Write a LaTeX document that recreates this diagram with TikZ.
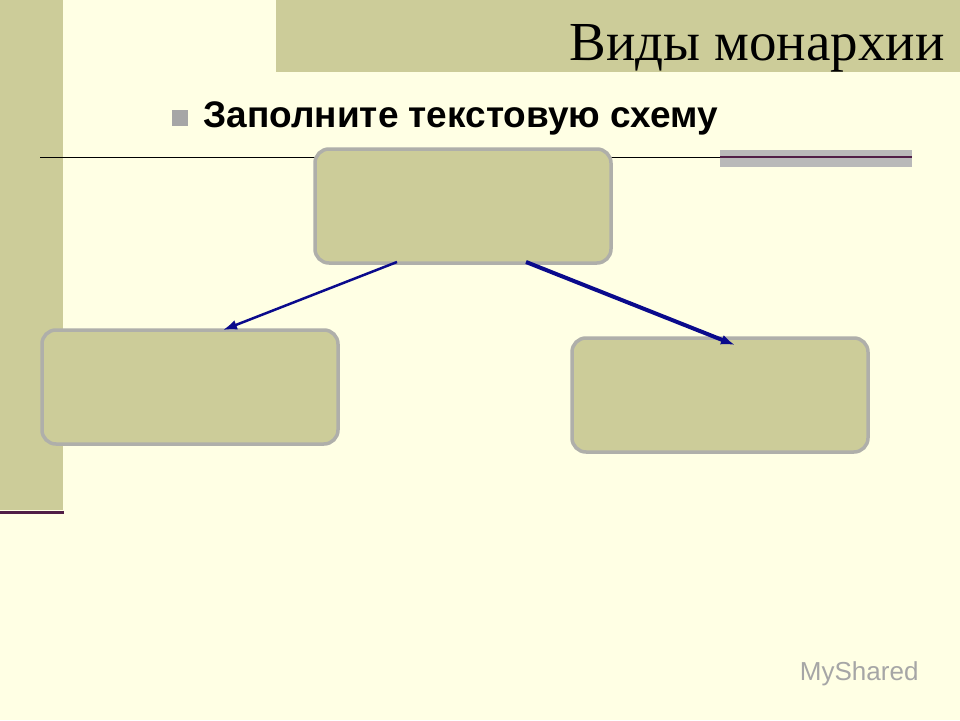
\documentclass[tikz,border=0pt]{standalone}
\usepackage{fontspec}
\setmainfont{Liberation Serif}
\newfontfamily\sansf{Liberation Sans}
\usetikzlibrary{arrows.meta}
\definecolor{bg}{RGB}{255,255,228}
\definecolor{khaki}{RGB}{204,204,153}
\definecolor{boxf}{RGB}{204,204,153}
\definecolor{plum}{RGB}{80,30,70}
\definecolor{navy}{RGB}{10,10,140}
\tikzset{
 schemebox/.style={draw={rgb,255:red,175;green,175;blue,170},line width=3.5pt,fill=boxf,rounded corners=14pt,minimum width=296pt,minimum height=114pt},
 arr/.style={navy,-{Latex[length=14pt,width=10pt]}}
}
\begin{document}
\begin{tikzpicture}[x=1pt,y=-1pt]
\fill[bg] (0,0) rectangle (960,720);
\useasboundingbox (0,0) rectangle (960,720);
\fill[khaki] (0,0) rectangle (63,510);
\draw[plum,line width=3pt] (0,512) -- (64,512);
\fill[khaki] (276,0) rectangle (960,72);
\node[anchor=base east,font=\fontsize{55}{60}\selectfont] (title) at (948,60) {Виды монархии};
\fill[gray!70] (172,110) rectangle (188,126);
\node[anchor=west,font=\sansf\bfseries\fontsize{37}{40}\selectfont] (sub) at (200,118) {Заполните текстовую схему};
\fill[gray!55] (720,150) rectangle (912,167);
\draw[black,line width=0.8pt] (40,157) -- (912,157);
\draw[plum,line width=1.5pt] (720,157) -- (912,157);
\node[schemebox] (top) at (463,206) {};
\node[schemebox] (left) at (190,387) {};
\node[schemebox] (right) at (720,395) {};
\coordinate (a1) at (397,262); \coordinate (a2) at (223,330);
\coordinate (b1) at (526,262); \coordinate (b2) at (735,345);
\draw[arr,line width=2.5pt] (a1) -- (a2);
\draw[arr,line width=4pt] (b1) -- (b2);
\node[anchor=east,text=gray!70,font=\sansf\fontsize{26}{28}\selectfont] (wm) at (922,674) {MyShared};
\end{tikzpicture}
\end{document}
